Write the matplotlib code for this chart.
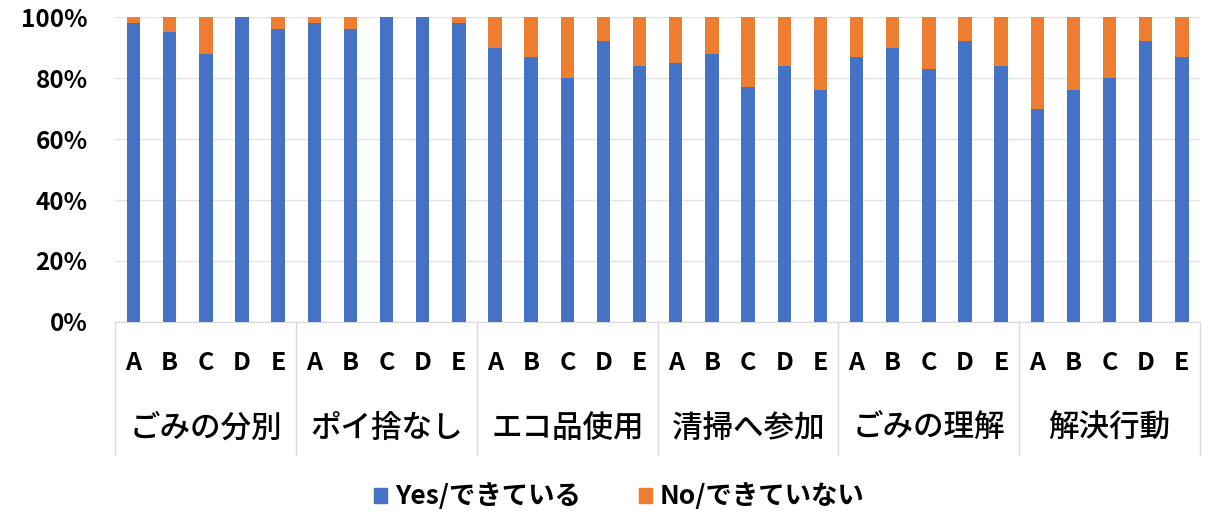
import numpy as np
import matplotlib
matplotlib.use("Agg")
import matplotlib.pyplot as plt
from matplotlib.patches import Patch

plt.rcParams['font.family'] = ['Noto Sans CJK JP', 'DejaVu Sans']

groups = ['ごみの分別', 'ポイ捨なし', 'エコ品使用', '清掃へ参加', 'ごみの理解', '解決行動']
letters = ['A', 'B', 'C', 'D', 'E']
yes = [98, 95, 88, 100, 96,
       98, 96, 100, 100, 98,
       90, 87, 80, 92, 84,
       85, 88, 77, 84, 76,
       87, 90, 83, 92, 84,
       70, 76, 80, 92, 87]
no = [100 - v for v in yes]

blue = '#4472C4'
orange = '#ED7D31'

fig = plt.figure(figsize=(12.09, 5.16), dpi=100)
ax = fig.add_axes([0.0955, 0.376, 0.897, 0.591])

x = np.arange(len(yes))
ax.bar(x, yes, width=0.37, color=blue, zorder=3)
ax.bar(x, no, width=0.37, bottom=yes, color=orange, zorder=3)

ax.set_xlim(-0.5, len(yes) - 0.5)
ax.set_ylim(0, 100)
ax.set_yticks([0, 20, 40, 60, 80, 100])
ax.set_yticklabels(['0%', '20%', '40%', '60%', '80%', '100%'],
                   fontsize=17.5, fontweight='bold')
ax.tick_params(axis='y', length=0, pad=20)
ax.grid(axis='y', color='#E4E4E4', linewidth=1, zorder=0)
ax.set_xticks([])
for s in ['top', 'right', 'left']:
    ax.spines[s].set_visible(False)
ax.spines['bottom'].set_color('#D9D9D9')

tr = ax.get_xaxis_transform()
for i in x:
    ax.text(i, -0.134, letters[i % 5], transform=tr, ha='center', va='center',
            fontsize=18, fontweight='bold')
for g, name in enumerate(groups):
    ax.text(g * 5 + 2, -0.35, name, transform=tr, ha='center', va='center',
            fontsize=22, fontweight='medium')
for b in range(len(groups) + 1):
    ax.plot([b * 5 - 0.5, b * 5 - 0.5], [0, -0.436], transform=tr,
            color='#D9D9D9', linewidth=1, clip_on=False)

handles = [Patch(color=blue), Patch(color=orange)]
fig.legend(handles, ['Yes/できている', 'No/できていない'], loc='center',
           bbox_to_anchor=(0.512, 0.037), ncol=2, frameon=False,
           prop={'size': 19, 'weight': 'bold'}, handlelength=0.5,
           handleheight=0.5, handletextpad=0.3, columnspacing=2.2)

fig.savefig('out.png', dpi=100)
